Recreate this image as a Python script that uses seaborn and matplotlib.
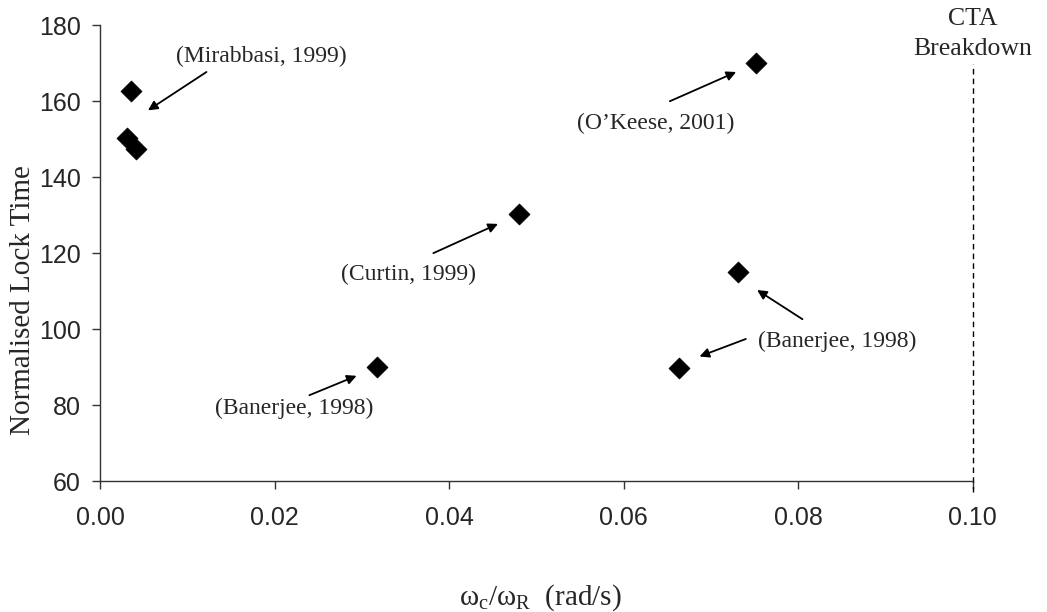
import pandas as pd
import seaborn as sns
import matplotlib
matplotlib.use("Agg")
import matplotlib.pyplot as plt

# data
bandwidth = [0.0036, 0.0031, 0.0041, 0.0318, 0.0480, 0.0664, 0.0731, 0.0752]
lock_time = [162.7, 150.3, 147.5, 89.9, 130.3, 89.8, 115.0, 170.0]

labels = ["(Mirabbasi, 1999)", "(O\u2019Keese, 2001)", "(Curtin, 1999)",
          "(Banerjee, 1998)", "(Banerjee, 1998)"]
label_x = [0.0185, 0.0637, 0.0353, 0.0223, 0.0845]
label_y = [171.8, 154.1, 114.4, 79.0, 96.7]

# arrows: tail (x, y) -> head (x, y)
arrow_tail_x = [0.0122, 0.0653, 0.0382, 0.0240, 0.0805, 0.0740]
arrow_tail_y = [167.7, 160.0, 120.0, 82.6, 102.6, 97.4]
arrow_head_x = [0.0055, 0.0729, 0.0456, 0.0294, 0.0753, 0.0687]
arrow_head_y = [157.6, 167.7, 127.7, 87.7, 110.3, 92.8]

breakdown_x = 0.10

df = pd.DataFrame({"bw": bandwidth, "lock": lock_time})

sns.set_style("ticks")
plt.rcParams["font.family"] = ["Liberation Sans", "DejaVu Sans"]

fig = plt.figure(figsize=(10.47, 6.12), dpi=100)
ax = fig.add_axes([0.0955, 0.214, 0.8335, 0.7447])

sns.scatterplot(data=df, x="bw", y="lock", marker="D", s=115, color="black",
                edgecolor="black", linewidth=0.5, ax=ax, zorder=3)

ax.set_xlim(0, 0.10)
ax.set_ylim(60, 180)
ax.set_xticks([0.00, 0.02, 0.04, 0.06, 0.08, 0.10])
ax.set_xticklabels(["0.00", "0.02", "0.04", "0.06", "0.08", "0.10"])
ax.set_yticks(range(60, 181, 20))

for side in ["top", "right"]:
    ax.spines[side].set_visible(False)
for side in ["left", "bottom"]:
    ax.spines[side].set_color("#333333")
    ax.spines[side].set_linewidth(1.0)

ax.tick_params(axis="both", labelsize=18, length=6, width=1.0, color="#333333",
               direction="out")
ax.tick_params(axis="x", pad=12)
ax.tick_params(axis="y", pad=8)

serif = ["Liberation Serif", "DejaVu Serif"]
ax.set_ylabel("Normalised Lock Time", fontsize=21, family=serif)
ax.yaxis.set_label_coords(-0.073, 0.397)
ax.set_xlabel("\u03c9$_\\mathregular{c}$/\u03c9$_\\mathregular{R}$  (rad/s)",
              fontsize=21, family=serif)
ax.xaxis.set_label_coords(0.504, -0.222)

for t, x, y in zip(labels, label_x, label_y):
    ax.text(x, y, t, fontsize=17, family=serif, ha="center", va="center")

for tx, ty, hx, hy in zip(arrow_tail_x, arrow_tail_y, arrow_head_x, arrow_head_y):
    ax.annotate("", xy=(hx, hy), xytext=(tx, ty),
                arrowprops=dict(arrowstyle="-|>", color="black", lw=1.3,
                                mutation_scale=14, shrinkA=0, shrinkB=0))

ax.plot([breakdown_x, breakdown_x], [57, 169.7], ls=(0, (4, 3)), color="black",
        lw=1.0, clip_on=False)
ax.text(breakdown_x, 177.7, "CTA\nBreakdown", fontsize=18.5, family=serif,
        ha="center", va="center", linespacing=1.5)

plt.savefig("out.png", dpi=100)
